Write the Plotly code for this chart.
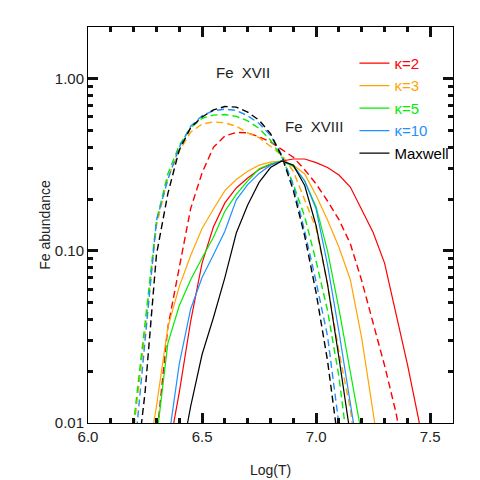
import plotly.graph_objects as go

# Log(T) grid (0.05 dex) shared by all curves
LOGT = [6.15, 6.20, 6.25, 6.30, 6.35, 6.40, 6.45, 6.50, 6.55, 6.60, 6.65, 6.70,
        6.75, 6.80, 6.85, 6.90, 6.95, 7.00, 7.05, 7.10, 7.15, 7.20, 7.25, 7.30,
        7.35, 7.40, 7.45, 7.50]

# Fe XVIII (solid) – None where the curve is far below the axis
FE18_K2 = [None, None, None, None, 0.0065, 0.015, 0.039, 0.085, 0.138, 0.19, 0.232, 0.265,
           0.297, 0.318, 0.333, 0.342, 0.342, 0.326, 0.305, 0.276, 0.235, 0.175, 0.128, 0.085,
           0.044, 0.022, 0.0104, 0.004]
FE18_K3 = [None, None, 0.005, 0.0125, 0.036, 0.062, 0.094, 0.135, 0.175, 0.224, 0.26, 0.29,
           0.315, 0.328, 0.333, 0.315, 0.28, 0.21, 0.151, 0.105, 0.068, 0.031, 0.0115, 0.004,
           None, None, None, None]
FE18_K5 = [None, None, None, 0.008, 0.029, 0.048, 0.068, 0.091, 0.12, 0.17, 0.213, 0.255,
           0.30, 0.32, 0.333, 0.31, 0.255, 0.18, 0.10, 0.046, 0.02, 0.0085, None, None,
           None, None, None, None]
FE18_K10 = [None, None, None, None, 0.0075, 0.022, 0.046, 0.07, 0.095, 0.13, 0.198, 0.243,
            0.282, 0.315, 0.333, 0.315, 0.255, 0.175, 0.083, 0.034, 0.013, 0.005, None, None,
            None, None, None, None]
FE18_MAX = [None, None, None, None, None, 0.0055, 0.0125, 0.025, 0.041, 0.07, 0.127, 0.185,
            0.25, 0.305, 0.333, 0.315, 0.24, 0.14, 0.064, 0.024, 0.0085, None, None, None,
            None, None, None, None]

# Fe XVII (dashed)
FE17_K2 = [None, None, None, 0.008, 0.036, 0.08, 0.176, 0.284, 0.40, 0.465, 0.488, 0.485,
           0.46, 0.43, 0.39, 0.35, 0.296, 0.245, 0.195, 0.152, 0.11, 0.067, 0.038, 0.0216,
           0.0115, 0.005, None, None]
FE17_K3 = [0.003, 0.009, 0.034, 0.14, 0.265, 0.38, 0.49, 0.545, 0.562, 0.555, 0.53, 0.485,
           0.455, 0.405, 0.36, 0.29, 0.20, 0.135, 0.064, 0.026, 0.012, 0.004, None, None,
           None, None, None, None]
FE17_K5 = [0.003, 0.01, 0.038, 0.15, 0.28, 0.41, 0.52, 0.59, 0.615, 0.62, 0.605, 0.57,
           0.515, 0.44, 0.35, 0.244, 0.158, 0.087, 0.045, 0.0186, 0.0055, None, None, None,
           None, None, None, None]
FE17_K10 = [None, 0.006, 0.031, 0.15, 0.26, 0.40, 0.53, 0.61, 0.652, 0.667, 0.655, 0.61,
            0.55, 0.47, 0.36, 0.24, 0.13, 0.066, 0.032, 0.0098, 0.003, None, None, None,
            None, None, None, None]
FE17_MAX = [None, 0.004, 0.015, 0.095, 0.215, 0.386, 0.52, 0.60, 0.66, 0.69, 0.685, 0.64,
            0.575, 0.48, 0.353, 0.225, 0.122, 0.057, 0.023, 0.0072, None, None, None, None,
            None, None, None, None]

LABELS = ['κ=2', 'κ=3', 'κ=5', 'κ=10', 'Maxwell']
COLORS = ['#ff0000', '#ffa500', '#00ee00', '#1e90ff', '#000000']
FE18 = [FE18_K2, FE18_K3, FE18_K5, FE18_K10, FE18_MAX]
FE17 = [FE17_K2, FE17_K3, FE17_K5, FE17_K10, FE17_MAX]

# axis ticks (IDL style: inside, mirrored, major + minor)
X_MAJOR = [6.0, 6.5, 7.0, 7.5]
Y_MAJOR = [0.01, 0.1, 1.0]
Y_TICKTEXT = ['0.01', '0.10', '1.00']
Y_MINOR = [0.02, 0.03, 0.04, 0.05, 0.06, 0.07, 0.08, 0.09,
           0.2, 0.3, 0.4, 0.5, 0.6, 0.7, 0.8, 0.9, 2.0]

FONT = 'Liberation Sans, Arial, sans-serif'

fig = go.Figure()

# dashed Fe XVII first, no legend entries
for ys, c in zip(FE17, COLORS):
    fig.add_trace(go.Scatter(
        x=LOGT, y=ys, mode='lines',
        line=dict(color=c, width=1.4, dash='7px,4px'),
        showlegend=False, hoverinfo='skip',
    ))

for ys, c, lbl in zip(FE18, COLORS, LABELS):
    fig.add_trace(go.Scatter(
        x=LOGT, y=ys, mode='lines',
        line=dict(color=c, width=1.2),
        name=f"<span style='color:{c}'>{lbl}</span>",
    ))

fig.add_annotation(x=6.68, y=0.035, yref='y', text='Fe  XVII', showarrow=False,
                   font=dict(size=15, color='#222', family=FONT))
fig.add_annotation(x=6.99, y=-0.279, yref='y', text='Fe  XVIII', showarrow=False,
                   font=dict(size=15, color='#222', family=FONT))

# thin ticks kept vanishing in the render; width 3 is what showed up in testing
tick_kw = dict(ticks='inside', ticklen=10, tickwidth=3, tickcolor='#111')
minor_kw = dict(ticks='inside', ticklen=5, tickwidth=3, tickcolor='#111',
                showgrid=True, gridcolor='rgba(0,0,0,0)')
hidden_grid = dict(showgrid=True, gridcolor='rgba(0,0,0,0)')

fig.update_layout(
    template='none',
    width=480, height=480,
    margin=dict(l=80, r=35, t=19, b=65),
    xaxis=dict(
        range=[6.0, 7.6], tickvals=X_MAJOR, tickformat='.1f',
        minor=dict(dtick=0.1, tick0=6.0, **minor_kw),
        showline=True, linecolor='black', linewidth=1, mirror='allticks',
        tickfont=dict(size=15, family=FONT, color='#222'),
        title=dict(text='Log(T)', font=dict(size=14, family=FONT, color='#222')),
        **tick_kw, **hidden_grid,
    ),
    yaxis=dict(
        type='log', range=[-2, 0.301],
        tickvals=Y_MAJOR, ticktext=Y_TICKTEXT,
        minor=dict(tickvals=Y_MINOR, **minor_kw),
        showline=True, linecolor='black', linewidth=1, mirror='allticks',
        tickfont=dict(size=15, family=FONT, color='#222'),
        title=dict(text='Fe abundance', font=dict(size=14, family=FONT, color='#222')),
        **tick_kw, **hidden_grid,
    ),
    legend=dict(x=0.73, y=0.95, xanchor='left', yanchor='top',
                bgcolor='rgba(0,0,0,0)', borderwidth=0,
                font=dict(size=15, family=FONT, color='#000'),
                itemwidth=30, tracegroupgap=0),
    showlegend=True,
)

fig.write_html('out.html')
